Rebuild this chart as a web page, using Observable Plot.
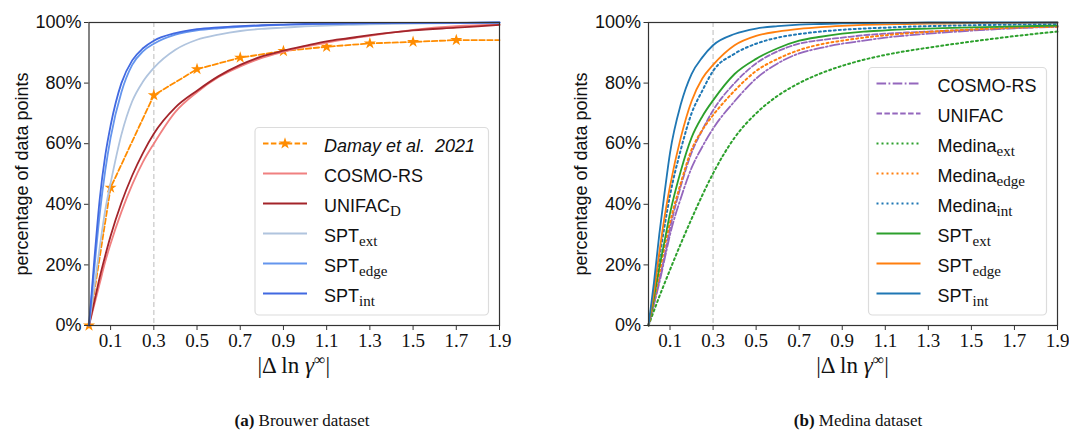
<!DOCTYPE html>
<html><head><meta charset="utf-8">
<script src="https://cdn.jsdelivr.net/npm/d3@7"></script>
<script src="https://cdn.jsdelivr.net/npm/@observablehq/plot@0.6"></script>
<style>
body{margin:0;background:#fff;}
#wrap{position:relative;width:1069px;height:430px;overflow:hidden;background:#fff;}
.panel{position:absolute;top:0;}
.cap{position:absolute;top:411px;width:240px;font-family:"Liberation Serif",serif;font-size:17px;line-height:20px;text-align:center;color:#111;}
</style></head><body>
<div id="wrap">
  <div class="panel" id="pa" style="left:0px"></div>
  <div class="panel" id="pb" style="left:534px"></div>
  <div class="cap" style="left:182px"><b>(a)</b> Brouwer dataset</div>
  <div class="cap" style="left:738px"><b>(b)</b> Medina dataset</div>
</div>
<script>
// ---------- data ----------
const xGrid = [0, 0.025, 0.05, 0.075, 0.1, 0.15, 0.2, 0.25, 0.3, 0.4, 0.5, 0.6, 0.7, 0.8, 0.9, 1.0, 1.1, 1.2, 1.3, 1.5, 1.7, 1.9];
const xTicks = [0.1, 0.3, 0.5, 0.7, 0.9, 1.1, 1.3, 1.5, 1.7, 1.9];
const yTicks = [0, 20, 40, 60, 80, 100];
const thresholdX = [0.3];

// (a) Brouwer dataset
const damayX = [0, 0.1, 0.3, 0.5, 0.7, 0.9, 1.1, 1.3, 1.5, 1.7, 1.9];
const damayY = [0, 45.5, 76, 84.6, 88.4, 90.6, 92, 93.1, 93.6, 94.2, 94.2];
const brouwerCosmo   = [0, 7, 14, 21, 27, 37.5, 46.5, 54, 60, 70.5, 77, 82, 85.5, 88.3, 90.3, 92, 93.4, 94.6, 95.6, 97.6, 98.8, 99.3];
const brouwerUnifacD = [0, 8, 16, 23, 29.5, 40.5, 49.5, 57, 63.3, 72, 77.5, 82.3, 86, 88.8, 90.7, 92.3, 93.8, 94.8, 95.8, 97.4, 98.3, 99.2];
const brouwerSptExt  = [0, 13, 26, 38, 47, 63, 74, 80.5, 85, 91, 94.3, 96, 97.2, 97.9, 98.3, 98.7, 99, 99.2, 99.4, 99.6, 99.8, 99.9];
const brouwerSptEdge = [0, 19, 37, 51, 62, 77, 86, 90.5, 93, 96, 97.4, 98.1, 98.6, 99, 99.2, 99.4, 99.5, 99.6, 99.7, 99.8, 99.9, 100];
const brouwerSptInt  = [0, 22, 42, 56, 66, 80, 87.5, 91.5, 94, 96.5, 97.8, 98.4, 98.8, 99.1, 99.3, 99.5, 99.6, 99.7, 99.8, 99.9, 99.9, 100];

// (b) Medina dataset
const medinaCosmo      = [0, 7, 14, 22, 30, 42, 52, 59, 65, 74, 81.5, 86.5, 89.8, 91.6, 93, 94, 95, 95.7, 96.3, 97.3, 98.1, 98.6];
const medinaUnifac     = [0, 7, 15, 23, 32, 46, 57, 64.5, 71, 80, 86.5, 90.5, 93, 94.2, 95, 95.8, 96.3, 96.7, 97, 97.6, 98.2, 98.7];
const medinaMedExt     = [0, 4.8, 9.5, 14, 18.4, 27, 35.2, 43, 50.2, 62, 70, 75.8, 80, 83.2, 85.7, 87.7, 89.3, 90.6, 91.7, 93.7, 95.5, 97];
const medinaMedEdge    = [0, 8, 17, 26, 34, 47, 58, 64.5, 69.4, 77.5, 84, 88, 90.9, 92.8, 94, 95, 95.8, 96.4, 96.9, 97.7, 98.3, 98.6];
const medinaMedInt     = [0, 11, 22, 33, 43, 58, 70, 77.5, 84, 89.7, 93, 95, 96.2, 97, 97.6, 98, 98.3, 98.6, 98.8, 99.1, 99.3, 99.5];
const medinaSptExt     = [0, 9, 19, 28, 37, 51, 62, 69, 74.3, 83, 88, 91.5, 94, 95.3, 96.3, 97, 97.4, 97.8, 98, 98.4, 98.7, 99];
const medinaSptEdge    = [0, 11, 24, 36, 46, 62, 74, 81.5, 86, 92.5, 95.6, 97, 97.9, 98.5, 98.9, 99.2, 99.4, 99.5, 99.6, 99.8, 99.9, 100];
const medinaSptInt     = [0, 14, 30, 44, 57, 73, 83, 88.5, 92.5, 96.2, 98, 98.8, 99.3, 99.5, 99.7, 99.8, 99.9, 99.9, 100, 100, 100, 100];

// ---------- styles ----------
const DASH = "5.5,2.4", DOT = "2,3", DASHDOT = "9.6,2.4,1.8,2.4";
const SANS = "'Liberation Sans', Arial, sans-serif";
const SERIF = "'Liberation Serif', 'Times New Roman', serif";

const seriesA = [
  {name: "Damay et al.  2021", italic: true, xs: damayX, ys: damayY, color: "#ff8c00", dash: DASH, curve: "linear", marker: true},
  {name: "COSMO-RS", ys: brouwerCosmo, color: "#f08080"},
  {name: "UNIFAC", sub: "D", ys: brouwerUnifacD, color: "#a3242a"},
  {name: "SPT", sub: "ext", ys: brouwerSptExt, color: "#b0c4de"},
  {name: "SPT", sub: "edge", ys: brouwerSptEdge, color: "#6495ed"},
  {name: "SPT", sub: "int", ys: brouwerSptInt, color: "#4169e1"}
];
const seriesB = [
  {name: "COSMO-RS", ys: medinaCosmo, color: "#9467bd", dash: DASHDOT},
  {name: "UNIFAC", ys: medinaUnifac, color: "#9467bd", dash: DASH},
  {name: "Medina", sub: "ext", ys: medinaMedExt, color: "#2ca02c", dash: DOT, w: 2},
  {name: "Medina", sub: "edge", ys: medinaMedEdge, color: "#ff7f0e", dash: DOT, w: 2},
  {name: "Medina", sub: "int", ys: medinaMedInt, color: "#1f77b4", dash: DOT, w: 2},
  {name: "SPT", sub: "ext", ys: medinaSptExt, color: "#2ca02c"},
  {name: "SPT", sub: "edge", ys: medinaSptEdge, color: "#ff7f0e"},
  {name: "SPT", sub: "int", ys: medinaSptInt, color: "#1f77b4"}
];

function panel(series, cfg) {
  const marks = [
    Plot.ruleX(thresholdX, {stroke: "#cfcfcf", strokeWidth: 1.4, strokeDasharray: "5,3"})
  ];
  for (const s of series) {
    const xs = s.xs || xGrid;
    const rows = xs.map((x, i) => ({x, y: s.ys[i]}));
    marks.push(Plot.line(rows, {x: "x", y: "y", stroke: s.color, strokeWidth: s.w || 1.8,
      strokeDasharray: s.dash || null, curve: s.curve || "monotone-x"}));
    if (s.marker) {
      marks.push(Plot.dot(rows.slice(0, rows.length - 1), {x: "x", y: "y", symbol: "star", r: 3.8, fill: s.color, stroke: "none"}));
    }
  }
  marks.push(
    Plot.frame({stroke: "#333", strokeWidth: 1.2}),
    Plot.axisX({ticks: xTicks, tickFormat: d => d.toFixed(1), tickSize: 5, tickPadding: 3, label: null,
      fontSize: 19, fontFamily: SERIF, stroke: "#333"}),
    Plot.axisY({ticks: yTicks, tickFormat: d => d + "%", tickSize: 4.5, tickPadding: 3, label: null,
      fontSize: 18, fontFamily: SANS, stroke: "#333"}),
    Plot.text(["percentage of data points"], {text: d => d, frameAnchor: "left", dx: -67, rotate: -90,
      textAnchor: "middle", lineAnchor: "middle", fontSize: 18, fontFamily: SANS, fill: "#111"})
  );
  const svg = Plot.plot({
    width: cfg.width, height: 402,
    marginLeft: cfg.ml, marginRight: cfg.mr, marginTop: 22, marginBottom: 77,
    x: {domain: [0, 1.9]},
    y: {domain: [0, 100]},
    style: {background: "transparent", overflow: "visible", color: "#111"},
    marks
  });
  const sel = d3.select(svg);
  const fl = cfg.ml, fr = cfg.width - cfg.mr, fb = 402 - 77;
  // x axis label |Δ ln γ^∞|
  const xl = sel.append("text").attr("x", (fl + fr) / 2).attr("y", 373)
    .attr("text-anchor", "middle").attr("font-family", SERIF).attr("font-size", 23).attr("fill", "#111");
  xl.append("tspan").text("|Δ ln ");
  xl.append("tspan").text("γ").attr("font-style", "italic");
  xl.append("tspan").text("∞").attr("font-size", 16).attr("dy", -8);
  xl.append("tspan").text("|").attr("dy", 8);
  // legend
  const n = series.length;
  const h = 37.5 + 30 * (n - 1);
  const bx = fr - 10.5 - cfg.lw, by = fb - 10 - h;
  const g = sel.append("g");
  g.append("rect").attr("x", bx).attr("y", by).attr("width", cfg.lw).attr("height", h).attr("rx", 4)
    .attr("fill", "white").attr("fill-opacity", 0.85).attr("stroke", "#dcdcdc").attr("stroke-width", 1.2);
  series.forEach((s, i) => {
    const y = by + 16 + 30 * i;
    g.append("line").attr("x1", bx + 8).attr("x2", bx + 52).attr("y1", y).attr("y2", y)
      .attr("stroke", s.color).attr("stroke-width", s.w || 1.8).attr("stroke-dasharray", s.dash || null);
    if (s.marker) g.append("path").attr("d", d3.symbol(d3.symbolStar, 45)())
      .attr("transform", `translate(${bx + 30},${y})`).attr("fill", s.color);
    const t = g.append("text").attr("x", bx + 69).attr("y", y + 8).attr("font-family", SANS)
      .attr("text-anchor", "start").attr("font-size", 18).attr("fill", "#111")
      .attr("xml:space", "preserve").style("white-space", "pre");
    t.append("tspan").text(s.name).attr("font-style", s.italic ? "italic" : null);
    if (s.sub) t.append("tspan").text(s.sub).attr("font-family", SERIF).attr("font-size", 15).attr("dy", 4);
  });
  return svg;
}

document.getElementById("pa").appendChild(panel(seriesA, {width: 534, ml: 88.5, mr: 35, lw: 233.5}));
document.getElementById("pb").appendChild(panel(seriesB, {width: 535, ml: 114, mr: 12, lw: 178}));
</script>
</body></html>
